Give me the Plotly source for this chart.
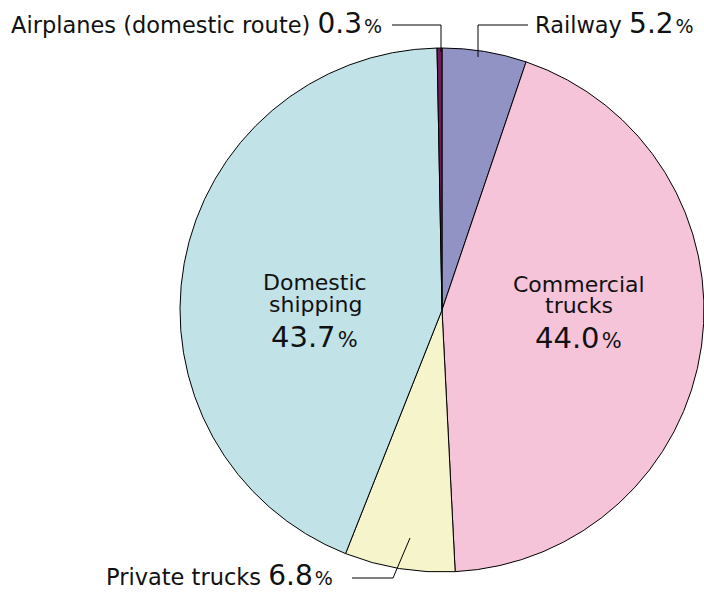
import plotly.graph_objects as go

# ---- data ----
categories = ["Railway", "Commercial trucks", "Private trucks", "Domestic shipping", "Airplanes (domestic route)"]
shares = [5.2, 44.0, 6.8, 43.7, 0.3]
colors = ["#9293c5", "#f6c4d8", "#f5f4cb", "#c1e3e8", "#6e1c5c"]

W, H = 704, 592
CX, CY, R = 442, 310, 262


def px(x):
    return x / W


def py(y):
    return 1 - y / H


FONT = "DejaVu Sans"
HAIR = "\u200a"

fig = go.Figure(
    go.Pie(
        labels=categories,
        values=shares,
        sort=False,
        direction="clockwise",
        rotation=0,
        marker=dict(colors=colors, line=dict(color="#000000", width=1)),
        textinfo="none",
        hoverinfo="label+percent",
        showlegend=False,
        domain=dict(x=[px(CX - R), px(CX + R)], y=[py(CY + R), py(CY - R)]),
    )
)


def lbl(name, value, big=28, small=19, name_size=22.5):
    return (f"<span style='font-size:{name_size}px'>{name} </span>"
            f"<span style='font-size:{big}px'>{value:.1f}</span>"
            f"<span style='font-size:{small}px'>{HAIR}%</span>")


def pct(value, big=29, small=21):
    return f"<span style='font-size:{big}px'>{value:.1f}</span><span style='font-size:{small}px'>{HAIR}%</span>"


annotations = [
    dict(text=lbl(categories[4], shares[4]), x=px(384), y=py(23.6), xanchor="right"),
    dict(text=lbl(categories[0], shares[0]), x=px(533), y=py(23.6), xanchor="left"),
    dict(text=lbl(categories[2], shares[2]), x=px(104), y=py(575.5), xanchor="left"),
    dict(text="Domestic", x=px(315), y=py(282.4), xanchor="center", font=dict(size=22)),
    dict(text="shipping", x=px(315), y=py(304), xanchor="center", font=dict(size=22)),
    dict(text=pct(shares[3]), x=px(314), y=py(337), xanchor="center"),
    dict(text="Commercial", x=px(579), y=py(284), xanchor="center", font=dict(size=22)),
    dict(text="trucks", x=px(579), y=py(305.4), xanchor="center", font=dict(size=22)),
    dict(text=pct(shares[1]), x=px(578), y=py(338.3), xanchor="center"),
]
for a in annotations:
    f = dict(family=FONT, size=20, color="#111111")
    f.update(a.get("font", {}))
    a.update(xref="paper", yref="paper", showarrow=False, align="center",
             yanchor="middle", font=f)

lines = [
    [(392, 25), (441, 25), (441, 52)],
    [(528, 25), (478, 25), (478, 57)],
    [(352, 578), (393, 578), (410, 538)],
]
shapes = []
for pts in lines:
    path = "M " + " L ".join(f"{px(x)},{py(y)}" for x, y in pts)
    shapes.append(dict(type="path", xref="paper", yref="paper", path=path,
                       line=dict(color="#000000", width=1)))

fig.update_layout(
    width=W, height=H,
    margin=dict(l=0, r=0, t=0, b=0),
    paper_bgcolor="white", plot_bgcolor="white",
    annotations=annotations,
    shapes=shapes,
    font=dict(family=FONT),
)

fig.write_html("out.html", config={"displayModeBar": False},
               post_script="document.body.style.margin='0';document.body.style.overflow='hidden';")
